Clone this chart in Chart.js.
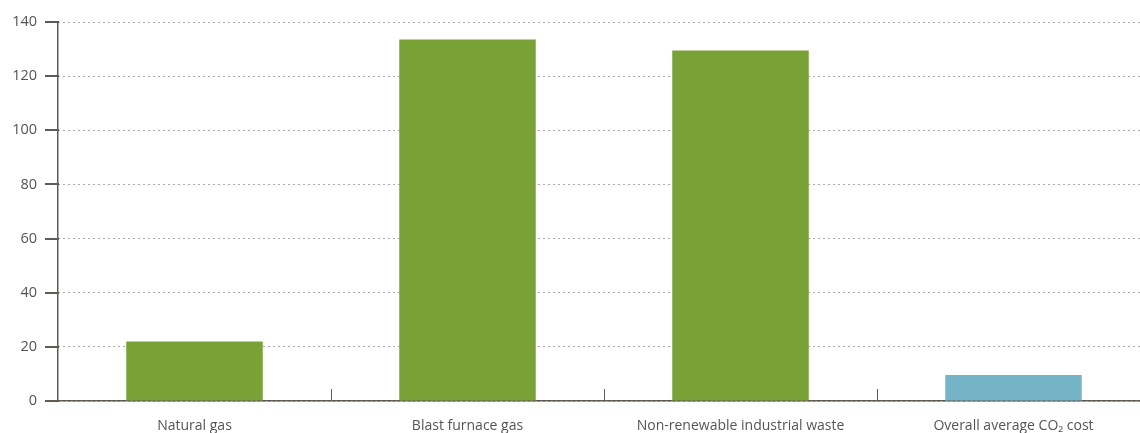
<!DOCTYPE html>
<html>
<head>
<meta charset="utf-8">
<script src="https://cdn.jsdelivr.net/npm/chart.js@4.4.0/dist/chart.umd.min.js"></script>
<style>
  html, body { margin: 0; padding: 0; background: #fff; overflow: hidden; }
  #wrap { width: 1152px; height: 433px; }
</style>
</head>
<body>
<div id="wrap"><canvas id="barChart"></canvas></div>
<script>
const categories = ["Natural gas", "Blast furnace gas", "Non-renewable industrial waste", "Overall average CO₂ cost"];
const costValues = [22, 133.5, 129.5, 9.6];
const barColors = ["#78a236", "#78a236", "#78a236", "#75b4c6"];
const yTicks = [0, 20, 40, 60, 80, 100, 120, 140];

const axisColor = "#5f5b54";
const textColor = "#555";

// solid tick marks left of the y axis, and small upward ticks between categories
const axisMarks = {
  id: "axisMarks",
  afterDraw(chart) {
    const x = chart.scales.x;
    const y = chart.scales.y;
    const area = chart.chartArea;
    const ctx = chart.ctx;
    ctx.save();
    ctx.setLineDash([]);
    ctx.strokeStyle = axisColor;
    ctx.lineWidth = 2;
    for (const v of yTicks) {
      const py = Math.round(y.getPixelForValue(v));
      ctx.beginPath();
      ctx.moveTo(area.left - 13, py);
      ctx.lineTo(area.left + 1, py);
      ctx.stroke();
    }
    ctx.lineWidth = 1;
    for (let i = 1; i < categories.length; i++) {
      const px = Math.round((x.getPixelForValue(i - 1) + x.getPixelForValue(i)) / 2) + 0.5;
      ctx.beginPath();
      ctx.moveTo(px, area.bottom - 12);
      ctx.lineTo(px, area.bottom);
      ctx.stroke();
    }
    ctx.restore();
  }
};

new Chart(document.getElementById("barChart").getContext("2d"), {
  type: "bar",
  data: {
    labels: categories,
    datasets: [{
      data: costValues,
      backgroundColor: barColors,
      barPercentage: 1,
      categoryPercentage: 0.5
    }]
  },
  options: {
    responsive: true,
    maintainAspectRatio: false,
    animation: false,
    layout: { padding: { top: 22, right: 2, left: 0, bottom: 0 } },
    plugins: { legend: { display: false }, tooltip: { enabled: false } },
    scales: {
      x: {
        grid: { display: false, drawTicks: false },
        border: { color: axisColor, width: 1.5 },
        ticks: { color: textColor, font: { family: "Open Sans", size: 14 }, padding: 17, maxRotation: 0 },
        afterFit(scale) { scale.height = 32; }
      },
      y: {
        min: 0,
        max: 140,
        afterBuildTicks(scale) { scale.ticks = yTicks.map(v => ({ value: v })); },
        grid: { color: "#555", tickLength: 13, tickColor: "rgba(0,0,0,0)" },
        border: { color: axisColor, width: 1.5, dash: [1, 4] },
        ticks: { color: textColor, font: { family: "Open Sans", size: 14.5 }, padding: 8 },
        afterFit(scale) { scale.width = 58; }
      }
    }
  },
  plugins: [axisMarks]
});
</script>
</body>
</html>
